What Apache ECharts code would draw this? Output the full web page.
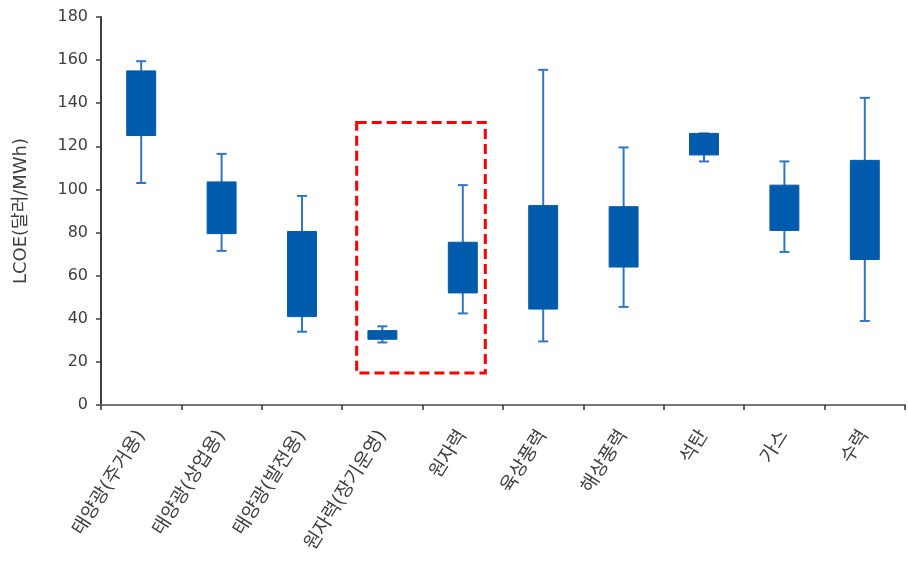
<!DOCTYPE html>
<html><head><meta charset="utf-8">
<script src="https://cdn.jsdelivr.net/npm/echarts@6/dist/echarts.min.js"></script>
<style>html,body{margin:0;padding:0;background:#fff}#c{width:908px;height:571px}</style>
</head><body><div id="c"></div>
<script>
var categories = ['태양광(주거용)','태양광(상업용)','태양광(발전용)','원자력(장기운영)','원자력','육상풍력','해상풍력','석탄','가스','수력'];
var whiskerLow  = [103, 71.5, 34, 29, 42.5, 29.5, 45.5, 113, 71, 39];
var boxLow      = [125, 79.5, 41, 30.5, 52, 44.5, 64, 116, 81, 67.5];
var boxHigh     = [155, 103.5, 80.5, 34.5, 75.5, 92.5, 92, 126, 102, 113.5];
var whiskerHigh = [159.5, 116.5, 97, 36.5, 102, 155.5, 119.5, 126, 113, 142.5];
var yTicks = [0, 20, 40, 60, 80, 100, 120, 140, 160, 180];
var highlightX = [2.68, 4.28];
var highlightY = [14.8, 131];

var boxData = categories.map(function (c, i) {
  return [i, whiskerLow[i], boxLow[i], boxHigh[i], whiskerHigh[i]];
});
var FONT = '"DejaVu Sans", "Noto Sans CJK KR", sans-serif';

var chart = echarts.init(document.getElementById('c'));
chart.setOption({
  animation: false,
  grid: { left: 101, right: 3, top: 17, bottom: 166 },
  xAxis: [{
    type: 'category',
    data: categories,
    axisLine: { lineStyle: { color: '#777', width: 2 } },
    axisTick: { show: true, length: 5, lineStyle: { color: '#333', width: 1.5 } },
    axisLabel: { rotate: 58, margin: 27, fontSize: 19, color: '#404040', fontFamily: FONT },
    splitLine: { show: false }
  }, {
    type: 'value', min: -0.5, max: 9.5, show: false
  }],
  yAxis: {
    type: 'value', min: yTicks[0], max: yTicks[yTicks.length - 1], interval: 20,
    name: 'LCOE(달러/MWh)', nameLocation: 'middle', nameGap: 71,
    nameTextStyle: { fontSize: 18, color: '#404040', fontFamily: FONT },
    axisLine: { show: true, onZero: false, lineStyle: { color: '#404040', width: 2 } },
    axisTick: { show: true, length: 5, lineStyle: { color: '#404040', width: 1.5 } },
    axisLabel: { margin: 13, fontSize: 16, color: '#404040', fontFamily: FONT },
    splitLine: { show: false }
  },
  series: [{
    type: 'custom',
    xAxisIndex: 0,
    data: boxData,
    renderItem: function (params, api) {
      var x = api.value(0);
      var pLo = api.coord([x, api.value(1)]);
      var pQ1 = api.coord([x, api.value(2)]);
      var pQ3 = api.coord([x, api.value(3)]);
      var pHi = api.coord([x, api.value(4)]);
      var bw = api.size([1, 0])[0] * 0.36;
      var cap = 10;
      var lineStyle = { stroke: '#3276c0', lineWidth: 2 };
      return {
        type: 'group',
        children: [
          { type: 'line', shape: { x1: pHi[0], y1: pHi[1], x2: pLo[0], y2: pLo[1] }, style: lineStyle },
          { type: 'line', shape: { x1: pHi[0] - cap / 2, y1: pHi[1], x2: pHi[0] + cap / 2, y2: pHi[1] }, style: lineStyle },
          { type: 'line', shape: { x1: pLo[0] - cap / 2, y1: pLo[1], x2: pLo[0] + cap / 2, y2: pLo[1] }, style: lineStyle },
          { type: 'rect', shape: { x: pQ3[0] - bw / 2, y: pQ3[1], width: bw, height: pQ1[1] - pQ3[1] },
            style: { fill: '#005bac', stroke: '#005bac', lineWidth: 1 } }
        ]
      };
    }
  }, {
    type: 'custom',
    xAxisIndex: 1,
    data: [[highlightX[0], highlightY[0], highlightX[1], highlightY[1]]],
    renderItem: function (params, api) {
      var p1 = api.coord([api.value(0), api.value(3)]);
      var p2 = api.coord([api.value(2), api.value(1)]);
      return {
        type: 'rect',
        shape: { x: p1[0], y: p1[1], width: p2[0] - p1[0], height: p2[1] - p1[1] },
        style: { fill: 'none', stroke: '#ff0000', lineWidth: 3, lineDash: [10, 5] }
      };
    }
  }]
});
</script></body></html>
